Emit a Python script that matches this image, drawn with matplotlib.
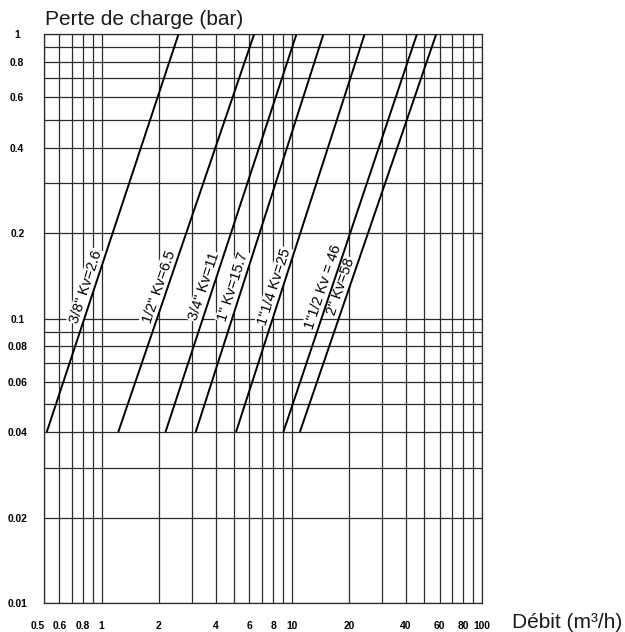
import numpy as np
import matplotlib
matplotlib.use("Agg")
import matplotlib.pyplot as plt
from matplotlib.ticker import LogLocator, NullFormatter, FixedLocator

# ---- data ----
labels = ['3/8" Kv=2.6', '1/2" Kv=6.5', '3/4" Kv=11', '1" Kv=15.7',
          '1"1/4 Kv=25', '1"1/2 Kv = 46', '2" Kv=58']
q_at_low = [0.515, 1.225, 2.17, 3.13, 5.1, 9.05, 11.05]     # flow at 0.04 bar
q_at_high = [2.54, 6.35, 10.6, 14.7, 24.2, 45.6, 57.6]      # flow at 1 bar
dp_low = 0.04
dp_high = 1.0

x_ticks = [0.5, 0.6, 0.8, 1, 2, 4, 6, 8, 10, 20, 40, 60, 80, 100]
x_ticklabels = ['0.5', '0.6', '0.8', '1', '2', '4', '6', '8', '10',
                '20', '40', '60', '80', '100']
y_ticks = [0.01, 0.02, 0.04, 0.06, 0.08, 0.1, 0.2, 0.4, 0.6, 0.8, 1]
y_ticklabels = ['0.01', '0.02', '0.04', '0.06', '0.08', '0.1', '0.2',
                '0.4', '0.6', '0.8', '1']

# ---- figure ----
plt.rcParams['font.family'] = ['Liberation Sans', 'DejaVu Sans']
fig = plt.figure(figsize=(6.25, 6.32), dpi=100)
ax = fig.add_axes([44.3 / 625, (632 - 603.3) / 632,
                   (481.7 - 44.3) / 625, (603.3 - 34.3) / 632])
ax.set_xscale('log')
ax.set_yscale('log')
ax.set_xlim(0.5, 100)
ax.set_ylim(0.01, 1)

grid_col = '#2b2b2b'
ax.xaxis.set_major_locator(FixedLocator(x_ticks))
ax.yaxis.set_major_locator(FixedLocator(y_ticks))
ax.xaxis.set_minor_locator(LogLocator(base=10, subs=np.arange(1, 10)))
ax.yaxis.set_minor_locator(LogLocator(base=10, subs=np.arange(1, 10)))
ax.xaxis.set_minor_formatter(NullFormatter())
ax.yaxis.set_minor_formatter(NullFormatter())
ax.set_xticklabels(x_ticklabels)
ax.set_yticklabels(y_ticklabels)
ax.grid(True, which='both', color=grid_col, lw=0.9)
ax.set_axisbelow(True)
for s in ax.spines.values():
    s.set_color(grid_col)
    s.set_linewidth(0.9)

ax.tick_params(which='both', length=0)
ax.tick_params(axis='x', pad=13, labelsize=7.4)
ax.tick_params(axis='y', pad=19.5, labelsize=7.4)
for t in ax.get_xticklabels() + ax.get_yticklabels():
    t.set_fontweight('bold')
for t in ax.get_yticklabels():
    t.set_horizontalalignment('center')
ax.get_xticklabels()[0].set_horizontalalignment('right')

# ---- curves ----
label_dp = 0.127
for lab, q0, q1 in zip(labels, q_at_low, q_at_high):
    ax.plot([q0, q1], [dp_low, dp_high], color='black', lw=1.4,
            solid_capstyle='butt', zorder=4, clip_on=True)
    p0 = ax.transData.transform((q0, dp_low))
    p1 = ax.transData.transform((q1, dp_high))
    ang = np.degrees(np.arctan2(p1[1] - p0[1], p1[0] - p0[0]))
    f = (np.log10(label_dp) - np.log10(dp_low)) / (np.log10(dp_high) - np.log10(dp_low))
    qm = 10 ** (np.log10(q0) + f * (np.log10(q1) - np.log10(q0)))
    th = np.radians(ang)
    off = 8.5
    dx, dy = -np.sin(th) * off, np.cos(th) * off
    ax.annotate(lab, xy=(qm, label_dp), xytext=(dx, dy),
                textcoords='offset pixels', rotation=ang,
                rotation_mode='anchor', ha='center', va='center',
                fontsize=10.5, color='black', zorder=3,
                bbox=dict(facecolor='white', edgecolor='none', pad=0.8))

fig.text(45 / 625, (632 - 25) / 632, 'Perte de charge (bar)',
         fontsize=15, ha='left', va='baseline', color='#1a1a1a')
fig.text(512.5 / 625, (632 - 628) / 632, 'Débit (m³/h)',
         fontsize=15, ha='left', va='baseline', color='#1a1a1a')

fig.savefig('out.png', dpi=100)
